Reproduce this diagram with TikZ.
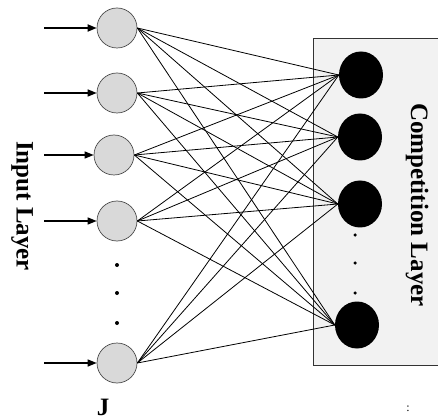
\documentclass[tikz,border=0pt]{standalone}
\usepackage{fontspec}
\setmainfont{Liberation Serif}
\usetikzlibrary{arrows.meta,shapes.geometric}
\begin{document}
\begin{tikzpicture}[x=1pt,y=-1pt,
  innode/.style={circle,draw=gray!60!black,line width=0.7pt,fill=gray!30,minimum size=40pt,inner sep=0pt},
  outnode/.style={ellipse,fill=black,minimum width=44pt,minimum height=47pt,inner sep=0pt},
  link/.style={line width=0.8pt,black},
  inarrow/.style={line width=1.4pt,-{Triangle[length=9pt,width=7pt]}},
  dotmark/.style={circle,fill=black,inner sep=0pt,minimum size=4pt},
  lbl/.style={font=\fontsize{25}{30}\selectfont\bfseries}
]
\useasboundingbox (0,0) rectangle (438,419);
% competition box
\fill[gray!10] (313,38) rectangle (438,365);
\draw[line width=0.9pt,black!80] (438,38) -- (313,38) -- (313,365) -- (438,365);
% input nodes
\node[innode] (i1) at (117,28) {};
\node[innode] (i2) at (117,93) {};
\node[innode] (i3) at (114,155) {};
\node[innode] (i4) at (117,221) {};
\node[innode] (i5) at (117,363) {};
\node[dotmark] (d1) at (117,265) {};
\node[dotmark] (d2) at (117,293) {};
\node[dotmark] (d3) at (117,323) {};
% output nodes
\node[outnode] (o1) at (361,75) {};
\node[outnode] (o2) at (360,137) {};
\node[outnode] (o3) at (360,204) {};
\node[outnode] (o4) at (357,325) {};
\node[dotmark,minimum size=3.5pt] (e1) at (355,235) {};
\node[dotmark,minimum size=3.5pt] (e2) at (355,263) {};
\node[dotmark,minimum size=3.5pt] (e3) at (355,293) {};
% connections
\foreach \a in {i1,i2,i3,i4,i5}{
  \foreach \b in {o1,o2,o3,o4}{
    \draw[link] (\a.east) -- (\b.west);
  }
}
% input arrows
\coordinate (s1) at (44,28);
\coordinate (s2) at (44,93);
\coordinate (s3) at (44,155);
\coordinate (s4) at (44,221);
\coordinate (s5) at (44,363);
\draw[inarrow,line width=1.8pt] (s1) -- (i1.west);
\draw[inarrow] (s2) -- (i2.west);
\draw[inarrow] (s3) -- (i3.west);
\draw[inarrow] (s4) -- (i4.west);
\draw[inarrow] (s5) -- (i5.west);
% labels
\node[lbl,rotate=-90] (inl) at (22,206) {Input Layer};
\node[lbl,rotate=-90] (cl) at (417,205) {Competition Layer};
\node[lbl] (jl) at (103,407) {J};
\node[font=\fontsize{12}{14}\selectfont] (col) at (408,409) {:};
\end{tikzpicture}
\end{document}
